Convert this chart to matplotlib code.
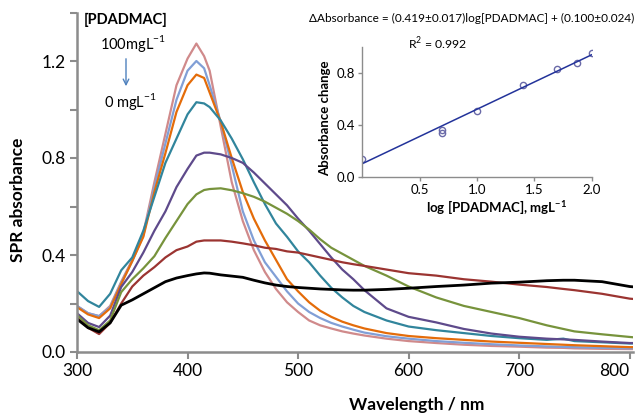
import matplotlib
matplotlib.use("Agg")
import matplotlib.pyplot as plt
import numpy as np

plt.rcParams['font.family'] = ['Lato', 'DejaVu Sans']

# ---------------- data ----------------
wavelength = [300, 310, 320, 330, 340, 350, 360, 370, 380, 390, 400, 408, 415, 420, 430, 440,
              450, 460, 470, 480, 490, 500, 510, 520, 530, 540, 550, 560, 580, 600, 625,
              650, 675, 700, 725, 740, 750, 775, 800, 805]

abs_100 = [0.19, 0.16, 0.148, 0.19, 0.29, 0.38, 0.49, 0.70, 0.90, 1.10, 1.21, 1.272, 1.22, 1.16, 0.93, 0.70,
           0.54, 0.42, 0.33, 0.26, 0.205, 0.165, 0.13, 0.11, 0.097, 0.085, 0.076, 0.068, 0.055, 0.045, 0.037,
           0.030, 0.025, 0.022, 0.018, 0.017, 0.015, 0.013, 0.012, 0.012]
abs_75 = [0.19, 0.16, 0.148, 0.185, 0.285, 0.375, 0.48, 0.68, 0.86, 1.04, 1.16, 1.20, 1.17, 1.10, 0.95, 0.77,
          0.58, 0.46, 0.37, 0.31, 0.25, 0.20, 0.165, 0.14, 0.12, 0.105, 0.092, 0.080, 0.065, 0.055, 0.045,
          0.038, 0.032, 0.027, 0.023, 0.021, 0.020, 0.017, 0.015, 0.015]
abs_50 = [0.185, 0.155, 0.14, 0.18, 0.28, 0.375, 0.475, 0.66, 0.82, 0.99, 1.10, 1.144, 1.13, 1.07, 0.95, 0.80,
          0.66, 0.55, 0.46, 0.38, 0.30, 0.25, 0.205, 0.17, 0.145, 0.125, 0.11, 0.097, 0.078, 0.066, 0.057,
          0.050, 0.043, 0.038, 0.033, 0.030, 0.028, 0.024, 0.020, 0.020]
abs_25 = [0.251, 0.21, 0.186, 0.24, 0.337, 0.39, 0.50, 0.64, 0.78, 0.88, 0.98, 1.03, 1.025, 1.01, 0.955, 0.88,
          0.795, 0.70, 0.61, 0.53, 0.475, 0.415, 0.37, 0.315, 0.265, 0.225, 0.19, 0.165, 0.13, 0.105, 0.09,
          0.078, 0.066, 0.057, 0.050, 0.055, 0.045, 0.040, 0.035, 0.035]
abs_10 = [0.16, 0.12, 0.103, 0.15, 0.268, 0.33, 0.41, 0.50, 0.58, 0.68, 0.755, 0.81, 0.822, 0.822, 0.815, 0.80,
          0.78, 0.74, 0.695, 0.65, 0.605, 0.55, 0.50, 0.445, 0.39, 0.34, 0.30, 0.255, 0.18, 0.145, 0.122,
          0.095, 0.076, 0.063, 0.055, 0.052, 0.050, 0.043, 0.037, 0.037]
abs_5 = [0.152, 0.11, 0.09, 0.13, 0.247, 0.30, 0.345, 0.395, 0.47, 0.54, 0.61, 0.65, 0.668, 0.672, 0.675, 0.667,
         0.655, 0.64, 0.62, 0.595, 0.57, 0.54, 0.505, 0.465, 0.43, 0.405, 0.38, 0.355, 0.315, 0.27, 0.225,
         0.19, 0.165, 0.14, 0.11, 0.095, 0.085, 0.073, 0.062, 0.060]
abs_1 = [0.14, 0.10, 0.074, 0.12, 0.20, 0.27, 0.315, 0.35, 0.39, 0.42, 0.435, 0.455, 0.46, 0.46, 0.46, 0.455,
         0.448, 0.44, 0.43, 0.425, 0.415, 0.41, 0.40, 0.39, 0.38, 0.37, 0.362, 0.355, 0.34, 0.325, 0.315,
         0.30, 0.29, 0.278, 0.268, 0.26, 0.255, 0.24, 0.22, 0.218]
abs_0 = [0.136, 0.10, 0.083, 0.12, 0.193, 0.215, 0.24, 0.265, 0.29, 0.305, 0.315, 0.322, 0.326, 0.325, 0.318, 0.313,
         0.308, 0.296, 0.285, 0.276, 0.27, 0.266, 0.263, 0.26, 0.258, 0.256, 0.255, 0.255, 0.258, 0.263, 0.27,
         0.276, 0.284, 0.288, 0.294, 0.296, 0.296, 0.29, 0.27, 0.268]

series = [abs_100, abs_75, abs_50, abs_25, abs_10, abs_5, abs_1, abs_0]
colors = ['#D08A8B', '#819FD6', '#E46C0A', '#31859C', '#5E4A8B', '#77933C', '#9B3431', '#000000']
widths = [1.6, 1.6, 1.6, 1.6, 1.6, 1.6, 1.6, 2.0]

log_conc = [0.0, 0.699, 0.699, 1.0, 1.398, 1.699, 1.875, 2.0]
abs_change = [0.136, 0.36, 0.335, 0.503, 0.704, 0.826, 0.877, 0.955]
fit_slope = 0.419
fit_intercept = 0.100

# ---------------- figure ----------------
fig = plt.figure(figsize=(6.35, 4.16), dpi=100)
ax = fig.add_axes([77/635, 1-352/416, (633-77)/635, (352-12.5)/416])

for y, c, w in zip(series, colors, widths):
    ax.plot(wavelength, y, color=c, lw=w, solid_joinstyle='round')

ax.set_xlim(300, 803)
ax.set_ylim(0, 1.4)
ax.set_xticks([300, 400, 500, 600, 700, 800])
ax.set_yticks(np.arange(0, 1.41, 0.2))
ax.set_yticklabels(['0.0', '', '0.4', '', '0.8', '', '1.2', ''])
grey = '#8C8C8C'
for s in ['top', 'right']:
    ax.spines[s].set_visible(False)
for s in ['left', 'bottom']:
    ax.spines[s].set_color(grey)
    ax.spines[s].set_linewidth(1.8)
ax.tick_params(direction='out', length=5, width=1.5, color=grey, labelsize=12.5, pad=3)
ax.get_xticklabels()[-1].set_horizontalalignment('right')

fig.text(18/635, 1-200/416, 'SPR absorbance', rotation=90, ha='center', va='center',
         fontsize=12.5, fontweight='bold')
fig.text(417/635, 1-405/416, 'Wavelength / nm', ha='center', va='center',
         fontsize=12.5, fontweight='bold')

# annotation
fig.text(126/635, 1-20/416, '[PDADMAC]', ha='center', va='center', fontsize=10.5, fontweight='bold')
fig.text(133/635, 1-44/416, r'100mgL$^{\mathregular{-1}}$', ha='center', va='center', fontsize=10.5)
fig.text(130/635, 1-101/416, r'0 mgL$^{\mathregular{-1}}$', ha='center', va='center', fontsize=10.5)
ax.annotate('', xy=(126/635, 1-89/416), xytext=(126/635, 1-56/416),
            xycoords='figure fraction', textcoords='figure fraction',
            arrowprops=dict(arrowstyle='->', color='#4F81BD', lw=1.0, mutation_scale=10))

# inset
axi = fig.add_axes([362.3/635, 1-176.7/416, (591.7-362.3)/635, 130/416])
axi.plot(log_conc, abs_change, linestyle='none', marker='o', markersize=4.5,
         markerfacecolor='none', markeredgecolor='#6A6AA8', markeredgewidth=1.0)
xf = np.array([0.0, 2.0])
axi.plot(xf, fit_intercept + fit_slope * xf, color='#23339A', lw=1.1)
axi.set_xlim(0, 2.0)
axi.set_ylim(0, 1.0)
axi.set_xticks([0.5, 1.0, 1.5, 2.0])
axi.set_xticklabels(['0.5', '1.0', '1.5', '2.0'])
axi.set_yticks([0.0, 0.4, 0.8])
axi.set_yticklabels(['0.0', '0.4', '0.8'])
for s in ['top', 'right']:
    axi.spines[s].set_visible(False)
for s in ['left', 'bottom']:
    axi.spines[s].set_color(grey)
    axi.spines[s].set_linewidth(1.0)
axi.tick_params(direction='out', length=3, width=1.0, color=grey, labelsize=9.5, pad=2)
axi.patch.set_alpha(0)

fig.text(325/635, 1-118/416, 'Absorbance change', rotation=90, ha='center', va='center',
         fontsize=9.5, fontweight='bold')
fig.text(497/635, 1-207/416, r'log [PDADMAC], mgL$^{\mathregular{-1}}$', ha='center', va='center',
         fontsize=9.5, fontweight='bold')
fig.text(472/635, 1-18/416, '\u0394Absorbance = (0.419\u00b10.017)log[PDADMAC] + (0.100\u00b10.024)',
         ha='center', va='center', fontsize=8.5)
fig.text(438/635, 1-44/416, r'R$^{\mathregular{2}}$ = 0.992', ha='center', va='center', fontsize=8.8)

fig.savefig('out.png', dpi=100)
